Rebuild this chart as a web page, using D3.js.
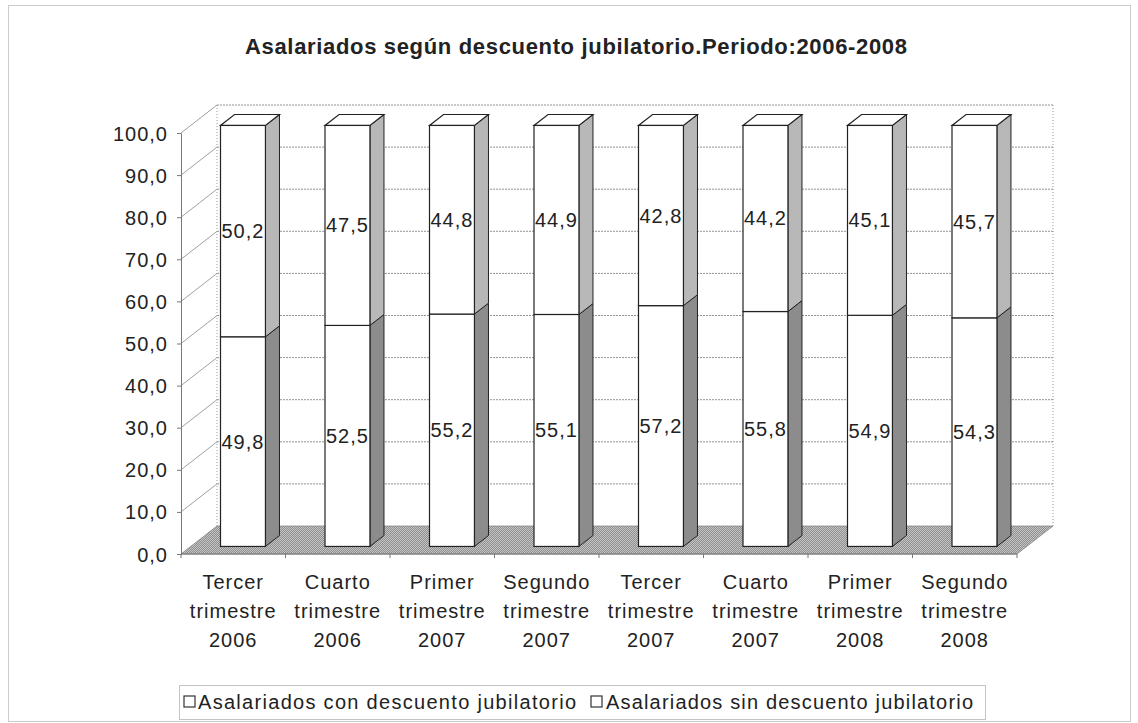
<!DOCTYPE html>
<html>
<head>
<meta charset="utf-8">
<script src="https://cdn.jsdelivr.net/npm/d3@7"></script>
<style>
  body { margin: 0; background: #fff; }
  text { font-family: "Liberation Sans", Arial, sans-serif; fill: #222; }
</style>
</head>
<body>
<div class="chart"></div>
<script>
// data
const categories = [
  ["Tercer", "trimestre", "2006"],
  ["Cuarto", "trimestre", "2006"],
  ["Primer", "trimestre", "2007"],
  ["Segundo", "trimestre", "2007"],
  ["Tercer", "trimestre", "2007"],
  ["Cuarto", "trimestre", "2007"],
  ["Primer", "trimestre", "2008"],
  ["Segundo", "trimestre", "2008"]
];
const conDescuento = [49.8, 52.5, 55.2, 55.1, 57.2, 55.8, 54.9, 54.3];
const sinDescuento = [50.2, 47.5, 44.8, 44.9, 42.8, 44.2, 45.1, 45.7];
const seriesNames = ["Asalariados con descuento jubilatorio", "Asalariados sin descuento jubilatorio"];
const yTicks = [0, 10, 20, 30, 40, 50, 60, 70, 80, 90, 100];
const title = "Asalariados según descuento jubilatorio.Periodo:2006-2008";

const W = 1138, H = 723;
const DX = 36, DY = -28;          // depth of the 3d box
const f0 = 0.27, f1 = 0.66;       // bar front / back as fraction of depth

const svg = d3.select(".chart").append("svg")
  .attr("width", W).attr("height", H);

// dithered fills like the scanned excel chart
const defs = svg.append("defs");
function dither(id, a, b) {
  const p = defs.append("pattern").attr("id", id)
    .attr("width", 2).attr("height", 2).attr("patternUnits", "userSpaceOnUse");
  p.append("rect").attr("width", 2).attr("height", 2).attr("fill", a);
  p.append("rect").attr("width", 1).attr("height", 1).attr("fill", b);
  p.append("rect").attr("x", 1).attr("y", 1).attr("width", 1).attr("height", 1).attr("fill", b);
}
dither("floorFill", "#8f8f8f", "#c4c4c4");
dither("sideHi", "#999", "#d6d6d6");
dither("sideLo", "#7a7a7a", "#9e9e9e");

// outer frame
svg.append("rect")
  .attr("x", 8.5).attr("y", 5.5).attr("width", 1122).attr("height", 716)
  .attr("fill", "none").attr("stroke", "#999").attr("stroke-dasharray", "1,1");

svg.append("text")
  .attr("x", 576).attr("y", 54)
  .attr("text-anchor", "middle")
  .attr("font-size", "22px").attr("font-weight", "bold")
  .attr("textLength", 662).attr("lengthAdjust", "spacing")
  .text(title);

const x = d3.scaleBand()
  .domain(d3.range(categories.length))
  .range([181, 1017])
  .paddingInner(0.57).paddingOuter(0.285);

const y = d3.scaleLinear().domain([0, 100]).range([554, 133]);

const x0 = 181, x1 = 1017;

// floor
svg.append("polygon")
  .attr("points", [[x0, y(0)], [x1, y(0)], [x1 + DX, y(0) + DY], [x0 + DX, y(0) + DY]].join(" "))
  .attr("fill", "url(#floorFill)").attr("stroke", "#888").attr("stroke-width", 0.8);

// back wall gridlines
svg.selectAll(".grid")
  .data(yTicks.filter(d => d > 0))
  .enter().append("line")
  .attr("x1", x0 + DX).attr("x2", x1 + DX)
  .attr("y1", d => y(d) + DY).attr("y2", d => y(d) + DY)
  .attr("stroke", "#777").attr("stroke-width", 0.8).attr("stroke-dasharray", "2,1");

// left wall lines
svg.selectAll(".wall")
  .data(yTicks.filter(d => d > 0))
  .enter().append("line")
  .attr("x1", x0).attr("y1", d => y(d))
  .attr("x2", x0 + DX).attr("y2", d => y(d) + DY)
  .attr("stroke", "#888").attr("stroke-width", 0.8);

// wall edges
[x0 + DX, x1 + DX].forEach(xx => {
  svg.append("line")
    .attr("x1", xx).attr("x2", xx)
    .attr("y1", y(100) + DY).attr("y2", y(0) + DY)
    .attr("stroke", "#999").attr("stroke-dasharray", "1,2");
});

// y axis
const yAxis = svg.append("g")
  .attr("transform", `translate(${x0},0)`)
  .call(d3.axisLeft(y).tickValues(yTicks).tickSize(4).tickSizeOuter(0)
    .tickFormat(d => d3.format(".1f")(d).replace(".", ",")));
yAxis.select(".domain").attr("stroke", "#777");
yAxis.selectAll(".tick line").attr("stroke", "#777");
yAxis.selectAll(".tick text")
  .attr("x", -13).attr("dy", "0.35em")
  .attr("font-size", "20px").attr("letter-spacing", "1px").attr("fill", "#222");

// x axis line and ticks
svg.append("line")
  .attr("x1", x0).attr("x2", x1).attr("y1", y(0)).attr("y2", y(0))
  .attr("stroke", "#777");
svg.selectAll(".xtick")
  .data(d3.range(categories.length + 1))
  .enter().append("line")
  .attr("x1", i => x0 + i * x.step()).attr("x2", i => x0 + i * x.step())
  .attr("y1", y(0)).attr("y2", y(0) + 4)
  .attr("stroke", "#777");

// category labels
const catG = svg.selectAll(".cat")
  .data(categories)
  .enter().append("text")
  .attr("text-anchor", "middle")
  .attr("font-size", "20px").attr("letter-spacing", "1px")
  .attr("fill", "#333");
catG.selectAll("tspan")
  .data((d, i) => d.map(t => ({ t, i })))
  .enter().append("tspan")
  .attr("x", d => x(d.i) + x.bandwidth() / 2)
  .attr("y", (d, j) => 589 + j * 29)
  .text(d => d.t);

// bars
const bw = x.bandwidth();
const bdx = (f1 - f0) * DX, bdy = (f1 - f0) * DY;
const segs = [];
categories.forEach((c, i) => {
  segs.push({ i, lo: 0, hi: conDescuento[i], v: conDescuento[i], s: 0 });
  segs.push({ i, lo: conDescuento[i], hi: conDescuento[i] + sinDescuento[i], v: sinDescuento[i], s: 1 });
});
const sideFill = ["url(#sideLo)", "url(#sideHi)"];

const bar = svg.selectAll(".bar")
  .data(segs)
  .enter().append("g")
  .attr("transform", d => `translate(${x(d.i) + f0 * DX},${f0 * DY})`);

bar.append("polygon")
  .attr("points", d => [[bw, y(d.lo)], [bw, y(d.hi)], [bw + bdx, y(d.hi) + bdy], [bw + bdx, y(d.lo) + bdy]].join(" "))
  .attr("fill", d => sideFill[d.s]).attr("stroke", "#222").attr("stroke-width", 1);

bar.append("rect")
  .attr("x", 0).attr("y", d => y(d.hi))
  .attr("width", bw).attr("height", d => y(d.lo) - y(d.hi))
  .attr("fill", "#fff").attr("stroke", "#222").attr("stroke-width", 1.2);

bar.filter(d => d.s === 1).append("polygon")
  .attr("points", d => [[0, y(d.hi)], [bw, y(d.hi)], [bw + bdx, y(d.hi) + bdy], [bdx, y(d.hi) + bdy]].join(" "))
  .attr("fill", "#fff").attr("stroke", "#222").attr("stroke-width", 1.2);

bar.append("text")
  .attr("x", bw / 2)
  .attr("y", d => y((d.lo + d.hi) / 2))
  .attr("dy", "0.35em")
  .attr("text-anchor", "middle")
  .attr("font-size", "20px").attr("letter-spacing", "1px")
  .attr("fill", "#222")
  .text(d => d3.format(".1f")(d.v).replace(".", ","));

// legend
const lg = svg.append("g");
lg.append("rect")
  .attr("x", 179.5).attr("y", 685.5).attr("width", 806).attr("height", 34)
  .attr("fill", "#fff").attr("stroke", "#888").attr("stroke-dasharray", "1,1");
const legX = [184, 591];
const legText = [[198, 378], [606, 367]];
seriesNames.forEach((n, k) => {
  lg.append("rect")
    .attr("x", legX[k]).attr("y", 696).attr("width", 11).attr("height", 11)
    .attr("fill", "#fff").attr("stroke", "#333").attr("stroke-width", 1.2);
  lg.append("text")
    .attr("x", legText[k][0]).attr("y", 709)
    .attr("font-size", "20px")
    .attr("textLength", legText[k][1]).attr("lengthAdjust", "spacing")
    .attr("fill", "#222")
    .text(n);
});
</script>
</body>
</html>
